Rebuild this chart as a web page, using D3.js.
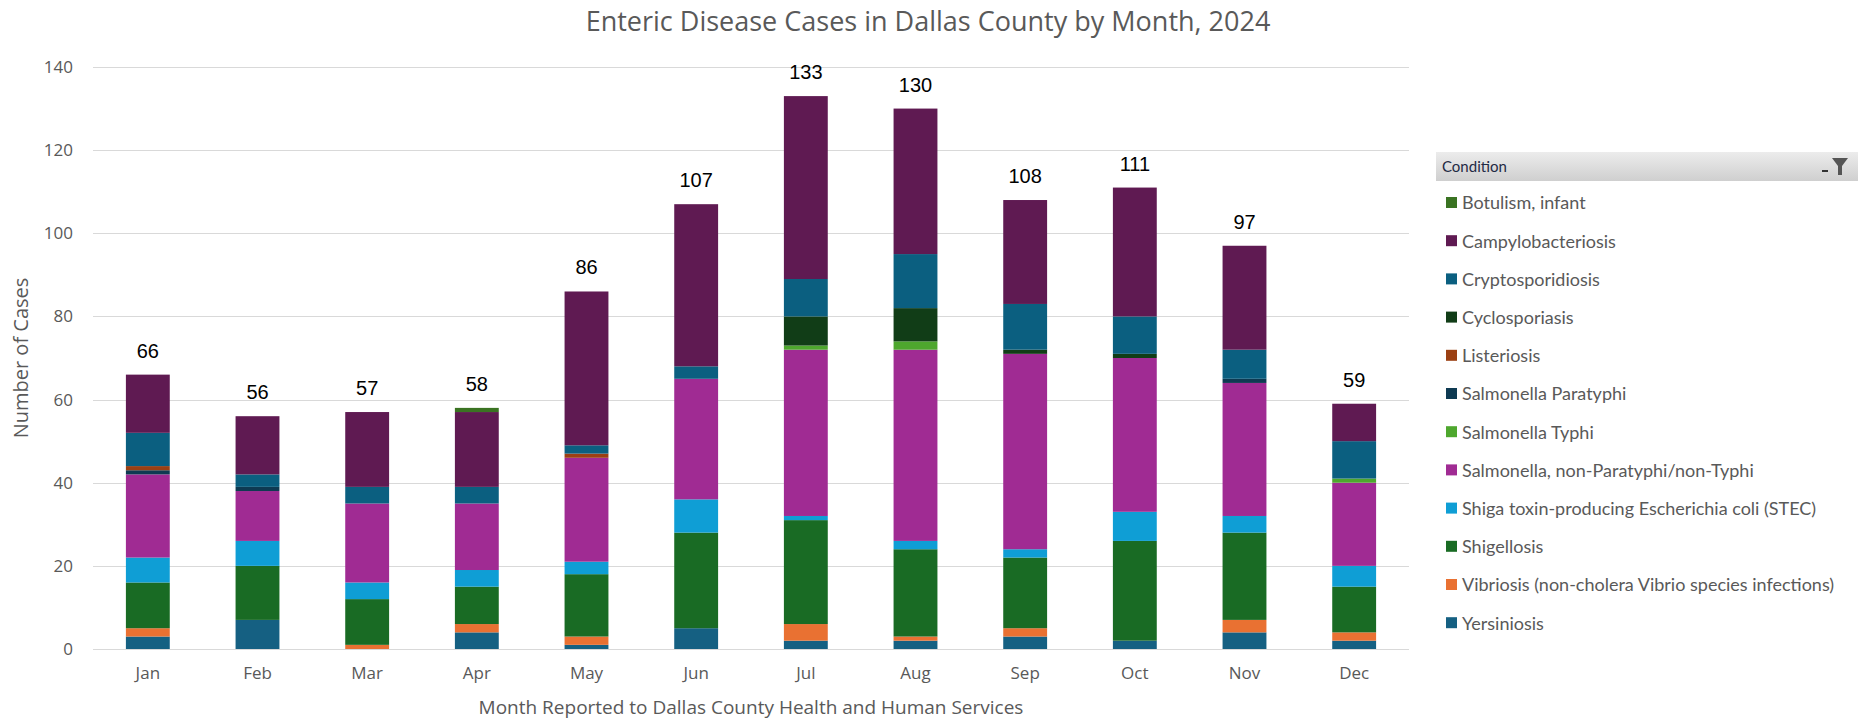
<!DOCTYPE html>
<html>
<head>
<meta charset="utf-8">
<script src="https://cdn.jsdelivr.net/npm/d3@7"></script>
<style>
  body { margin: 0; background: #fff; }
  text { font-family: "Open Sans", sans-serif; }
</style>
</head>
<body>
<div id="chart"></div>
<script>
// months on the x axis
var months = ["Jan","Feb","Mar","Apr","May","Jun","Jul","Aug","Sep","Oct","Nov","Dec"];

// conditions, in legend order (top of legend = top of stack)
var conditions = ["Botulism, infant","Campylobacteriosis","Cryptosporidiosis","Cyclosporiasis",
  "Listeriosis","Salmonella Paratyphi","Salmonella Typhi","Salmonella, non-Paratyphi/non-Typhi",
  "Shiga toxin-producing Escherichia coli (STEC)","Shigellosis",
  "Vibriosis (non-cholera Vibrio species infections)","Yersiniosis"];

// cases per month for each condition
var botulism      = [0,0,0,1,0,0,0,0,0,0,0,0];
var campylo       = [14,14,18,18,37,39,44,35,25,31,25,9];
var cryptoSp      = [8,3,4,4,2,3,9,13,11,9,7,9];
var cyclo         = [0,0,0,0,0,0,7,8,1,1,0,0];
var listeriosis   = [1,0,0,0,1,0,0,0,0,0,0,0];
var paratyphi     = [1,1,0,0,0,0,0,0,0,0,1,0];
var typhi         = [0,0,0,0,0,0,1,2,0,0,0,1];
var salmonellaNon = [20,12,19,16,25,29,40,46,47,37,32,20];
var stec          = [6,6,4,4,3,8,1,2,2,7,4,5];
var shigellosis   = [11,13,11,9,15,23,25,21,17,24,21,11];
var vibriosis     = [2,0,1,2,2,0,4,1,2,0,3,2];
var yersiniosis   = [3,7,0,4,1,5,2,2,3,2,4,2];

var yTicks = [0,20,40,60,80,100,120,140];

var seriesValues = [botulism, campylo, cryptoSp, cyclo, listeriosis, paratyphi, typhi,
  salmonellaNon, stec, shigellosis, vibriosis, yersiniosis];

// fill colors (same order as conditions)
var color = d3.scaleOrdinal()
  .domain(conditions)
  .range(["#3A7322","#5F1A52","#0B5F80","#113D17","#9B4013","#0E3A52",
          "#4EA72E","#A02B93","#0F9ED5","#196B24","#E97132","#156082"]);

var W = 1858, H = 721;
var margin = {top: 67, left: 93, right: 449, bottom: 72};

var svg = d3.select("#chart").append("svg")
  .attr("width", W)
  .attr("height", H);

svg.append("rect").attr("width", W).attr("height", H).attr("fill", "#fff");

// build rows for the stack
var rows = months.map(function(m, i) {
  var r = {month: m};
  conditions.forEach(function(c, j) { r[c] = seriesValues[j][i]; });
  return r;
});

// stack from the bottom of the legend upward
var stack = d3.stack().keys(conditions.slice().reverse());
var stacked = stack(rows);

var x = d3.scaleBand()
  .domain(months)
  .range([margin.left, W - margin.right])
  .paddingInner(0.6)
  .paddingOuter(0.3);

var y = d3.scaleLinear()
  .domain([0, 140])
  .range([H - margin.bottom, margin.top]);

// gridlines
svg.append("g")
  .selectAll("line")
  .data(yTicks)
  .enter()
  .append("line")
    .attr("x1", margin.left)
    .attr("x2", W - margin.right)
    .attr("y1", function(d) { return Math.round(y(d)) + 0.5; })
    .attr("y2", function(d) { return Math.round(y(d)) + 0.5; })
    .attr("stroke", "#d9d9d9")
    .attr("stroke-width", 1);

// y axis labels
var yAxis = svg.append("g")
  .attr("transform", "translate(" + (margin.left - 20) + ",0)")
  .call(d3.axisLeft(y).tickValues(yTicks).tickSize(0).tickPadding(0));
yAxis.select(".domain").remove();
yAxis.selectAll("text")
  .attr("fill", "#595959")
  .style("font-size", "17px");

// x axis labels
var xAxis = svg.append("g")
  .attr("transform", "translate(0," + (H - margin.bottom) + ")")
  .call(d3.axisBottom(x).tickSize(0).tickPadding(18));
xAxis.select(".domain").remove();
xAxis.selectAll("text")
  .attr("fill", "#595959")
  .style("font-size", "17px");

// stacked bars
svg.append("g")
  .selectAll("g")
  .data(stacked)
  .enter()
  .append("g")
    .attr("fill", function(d) { return color(d.key); })
  .selectAll("rect")
  .data(function(d) { return d; })
  .enter()
  .append("rect")
    .attr("x", function(d) { return x(d.data.month); })
    .attr("y", function(d) { return y(d[1]); })
    .attr("height", function(d) { return y(d[0]) - y(d[1]); })
    .attr("width", x.bandwidth());

// total labels above bars
svg.append("g")
  .selectAll("text")
  .data(rows)
  .enter()
  .append("text")
    .attr("x", function(d) { return x(d.month) + x.bandwidth() / 2; })
    .attr("y", function(d) {
      var total = d3.sum(conditions, function(c) { return d[c]; });
      return y(total) - 17;
    })
    .attr("text-anchor", "middle")
    .attr("fill", "#000")
    .style("font-family", "Liberation Sans, Arial, sans-serif")
    .style("font-size", "20px")
    .text(function(d) { return d3.sum(conditions, function(c) { return d[c]; }); });

// title
svg.append("text")
  .attr("x", 928)
  .attr("y", 31)
  .attr("text-anchor", "middle")
  .attr("fill", "#595959")
  .style("font-size", "27px")
  .text("Enteric Disease Cases in Dallas County by Month, 2024");

// axis titles
svg.append("text")
  .attr("x", (margin.left + W - margin.right) / 2)
  .attr("y", 714)
  .attr("text-anchor", "middle")
  .attr("fill", "#595959")
  .style("font-size", "19px")
  .text("Month Reported to Dallas County Health and Human Services");

svg.append("text")
  .attr("transform", "translate(28," + ((H - margin.bottom + margin.top) / 2) + ") rotate(-90)")
  .attr("text-anchor", "middle")
  .attr("fill", "#595959")
  .style("font-size", "20px")
  .text("Number of Cases");

// legend header (slicer style)
var defs = svg.append("defs");
var grad = defs.append("linearGradient")
  .attr("id", "hdr")
  .attr("x1", 0).attr("y1", 0).attr("x2", 0).attr("y2", 1);
grad.append("stop").attr("offset", "0%").attr("stop-color", "#ececec");
grad.append("stop").attr("offset", "100%").attr("stop-color", "#cfcfcf");

var legend = svg.append("g");
legend.append("rect")
  .attr("x", 1436)
  .attr("y", 152)
  .attr("width", 422)
  .attr("height", 29)
  .attr("fill", "url(#hdr)");
legend.append("text")
  .attr("x", 1442)
  .attr("y", 172)
  .attr("fill", "#1f2a44")
  .style("font-family", "Lato, sans-serif")
  .style("font-size", "15px")
  .text("Condition");
// filter icon
legend.append("path")
  .attr("d", "M1832,158 L1848,158 L1842,166 L1842,175 L1838,175 L1838,166 Z")
  .attr("fill", "#555");
legend.append("rect")
  .attr("x", 1822).attr("y", 170).attr("width", 6).attr("height", 2)
  .attr("fill", "#333");

var item = legend.selectAll(".item")
  .data(conditions)
  .enter()
  .append("g")
    .attr("class", "item")
    .attr("transform", function(d, i) { return "translate(1446," + (203 + i * 38.2) + ")"; });

item.append("rect")
  .attr("x", 0)
  .attr("y", -6)
  .attr("width", 11)
  .attr("height", 11)
  .attr("fill", function(d) { return color(d); });

item.append("text")
  .attr("x", 16)
  .attr("y", 0)
  .attr("dy", "0.35em")
  .attr("fill", "#595959")
  .style("font-family", "Lato, sans-serif")
  .style("font-size", "18px")
  .text(function(d) { return d; });
</script>
</body>
</html>
